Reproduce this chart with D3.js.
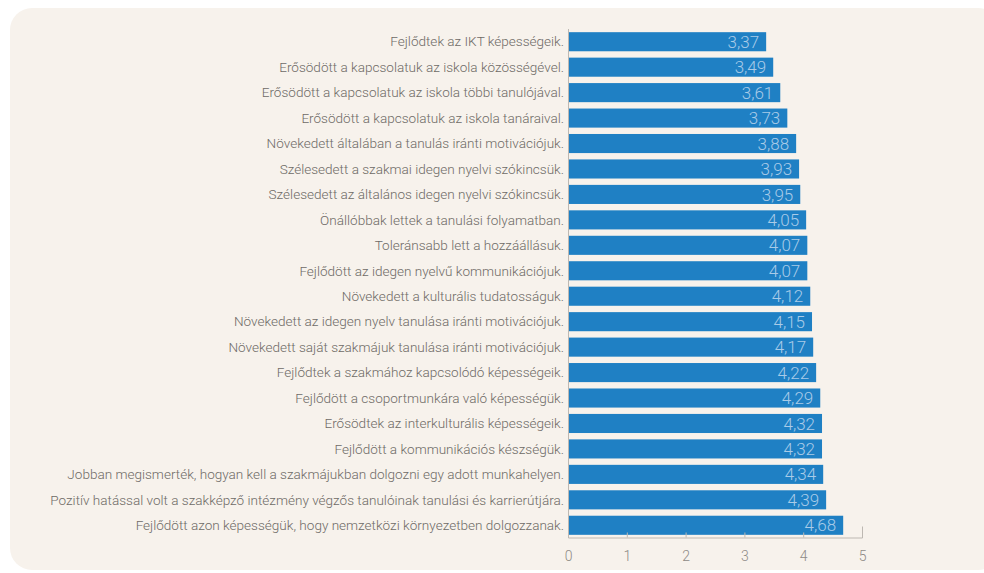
<!DOCTYPE html>
<html><head><meta charset="utf-8">
<script src="https://cdn.jsdelivr.net/npm/d3@7"></script>
<style>
html,body{margin:0;padding:0;background:#fff;}
svg{display:block;font-family:Roboto,"Noto Sans",sans-serif;}
</style></head><body>
<svg id="c" width="984" height="573"></svg>
<script>
const categories = [
"Fejlődtek az IKT képességeik.",
"Erősödött a kapcsolatuk az iskola közösségével.",
"Erősödött a kapcsolatuk az iskola többi tanulójával.",
"Erősödött a kapcsolatuk az iskola tanáraival.",
"Növekedett általában a tanulás iránti motivációjuk.",
"Szélesedett a szakmai idegen nyelvi szókincsük.",
"Szélesedett az általános idegen nyelvi szókincsük.",
"Önállóbbak lettek a tanulási folyamatban.",
"Toleránsabb lett a hozzáállásuk.",
"Fejlődött az idegen nyelvű kommunikációjuk.",
"Növekedett a kulturális tudatosságuk.",
"Növekedett az idegen nyelv tanulása iránti motivációjuk.",
"Növekedett saját szakmájuk tanulása iránti motivációjuk.",
"Fejlődtek a szakmához kapcsolódó képességeik.",
"Fejlődött a csoportmunkára való képességük.",
"Erősödtek az interkulturális képességeik.",
"Fejlődött a kommunikációs készségük.",
"Jobban megismerték, hogyan kell a szakmájukban dolgozni egy adott munkahelyen.",
"Pozitív hatással volt a szakképző intézmény végzős tanulóinak tanulási és karrierútjára.",
"Fejlődött azon képességük, hogy nemzetközi környezetben dolgozzanak."
];
const values = [3.37,3.49,3.61,3.73,3.88,3.93,3.95,4.05,4.07,4.07,4.12,4.15,4.17,4.22,4.29,4.32,4.32,4.34,4.39,4.68];
const xTicks = [0,1,2,3,4,5];

const svg = d3.select("#c");
svg.append("rect").attr("x",10).attr("y",8).attr("width",990).attr("height",562)
  .attr("rx",22).attr("fill","#f7f2ec");

const x = d3.scaleLinear().domain([0,5]).range([568,862]);
const y = d3.scaleBand().domain(categories).range([29,538]).paddingInner(0.25).paddingOuter(0.125);

svg.append("line").attr("x1",568.5).attr("x2",568.5).attr("y1",29).attr("y2",538)
  .attr("stroke","#bdb8b2").attr("stroke-width",1);

svg.append("g").selectAll("rect").data(values).join("rect")
  .attr("x",x(0)+1).attr("y",(d,i)=>y(categories[i]))
  .attr("width",d=>x(d)-x(0)-1).attr("height",y.bandwidth())
  .attr("fill","#1f80c4");

svg.append("g").selectAll("text").data(values).join("text")
  .attr("x",d=>x(d)-7).attr("y",(d,i)=>y(categories[i])+y.bandwidth()/2)
  .attr("dy","0.36em").attr("text-anchor","end")
  .attr("font-size",17).attr("font-weight",300).attr("fill","#a9cbe8")
  .text(d=>d.toFixed(2).replace(".",","));

svg.append("g").selectAll("text").data(categories).join("text")
  .attr("x",564).attr("y",d=>y(d)+y.bandwidth()/2)
  .attr("dy","0.35em").attr("text-anchor","end")
  .attr("font-size",13.55).attr("font-weight",300).attr("fill","#6e6a66")
  .text(d=>d);

const ax = d3.axisBottom(x).tickValues(xTicks).tickSize(-5).tickSizeOuter(-11).tickPadding(14)
  .tickFormat(d=>String(d));
const g = svg.append("g").attr("transform","translate(0,537.5)").call(ax);
g.select(".domain").attr("stroke","#bdb8b2");
g.selectAll(".tick line").attr("stroke","#bdb8b2");
g.selectAll(".tick text").attr("font-size",14).attr("font-weight",300).attr("fill","#8e8a86")
  .attr("font-family","Roboto,'Noto Sans',sans-serif");
</script>
</body></html>
